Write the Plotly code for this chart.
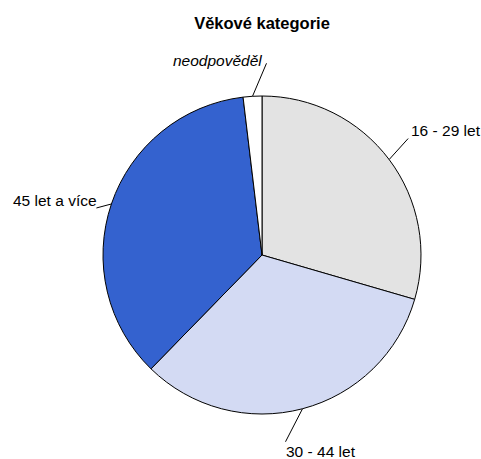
import numpy as np
import plotly.graph_objects as go

# Age categories (share of respondents, %)
labels = ['16 - 29 let', '30 - 44 let', '45 let a více', 'neodpověděl']
values = [29.5, 32.8, 35.8, 1.9]
colors = ['#e3e3e3', '#d3daf3', '#3462cf', '#ffffff']

W, H = 481, 459
cx, cy, r = 262, 255, 159   # pie centre and radius in px

# leader line end offset from slice edge, text offset from line end, anchor
leaders = [
    dict(d=(19, -21), t=(1, -8), xanchor='left'),
    dict(d=(-17, 33), t=(-2, 10), xanchor='left'),
    dict(d=(-15, 4), t=(3, -7), xanchor='right'),
    dict(d=(14, -33), t=(-3, -3), xanchor='right'),
]


def px(x, y):
    return x / W, 1 - y / H


fig = go.Figure(go.Pie(
    labels=labels, values=values, sort=False, direction='clockwise', rotation=0,
    marker=dict(colors=colors, line=dict(color='#000000', width=1)),
    textinfo='none', hoverinfo='label+percent', showlegend=False,
    domain=dict(x=[(cx - r) / W, (cx + r) / W], y=[1 - (cy + r) / H, 1 - (cy - r) / H]),
))

# leader lines + labels, placed at each slice's mid angle
vals = np.array(values)
mids = (np.cumsum(vals) - vals / 2) / vals.sum() * 2 * np.pi
for lab, a, ld in zip(labels, mids, leaders):
    ex, ey = cx + r * np.sin(a), cy - r * np.cos(a)
    lx, ly = ex + ld['d'][0], ey + ld['d'][1]
    x0, y0 = px(ex, ey)
    x1, y1 = px(lx, ly)
    fig.add_shape(type='line', xref='paper', yref='paper', x0=x0, y0=y0, x1=x1, y1=y1,
                  line=dict(color='#000000', width=1))
    tx, ty = px(lx + ld['t'][0], ly + ld['t'][1])
    text = '<i>' + lab + '</i>' if lab == 'neodpověděl' else lab
    fig.add_annotation(x=tx, y=ty, xref='paper', yref='paper', text=text, showarrow=False,
                       xanchor=ld['xanchor'], yanchor='middle',
                       font=dict(family='Liberation Sans, Arial', size=15.5, color='#000000'))

fig.update_layout(
    width=W, height=H, margin=dict(l=0, r=0, t=0, b=0),
    paper_bgcolor='white', plot_bgcolor='white',
    title=dict(text='<b>Věkové kategorie</b>', xref='paper', yref='container',
               x=cx / W, xanchor='center', y=1 - 23 / H, yanchor='middle',
               font=dict(family='Liberation Sans, Arial', size=16.5, color='#000000')),
)

# drop the default 8px page margin so the figure sits at the window's corner
fig.write_html("out.html", config={'displayModeBar': False},
               post_script="document.body.style.margin='0';")
